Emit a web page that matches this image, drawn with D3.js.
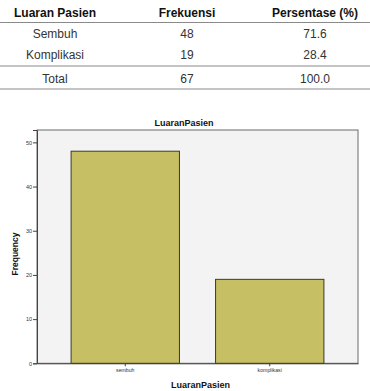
<!DOCTYPE html>
<html><head><meta charset="utf-8">
<script src="https://cdn.jsdelivr.net/npm/d3@7"></script>
<style>body{margin:0;background:#fff}svg{display:block}</style>
</head><body>
<script>
// Table data
const tableHeaders = ["Luaran Pasien", "Frekuensi", "Persentase (%)"];
const tableRows = [["Sembuh", "48", "71.6"], ["Komplikasi", "19", "28.4"]];
const tableTotal = ["Total", "67", "100.0"];
// Chart data
const categories = ["sembuh", "komplikasi"];
const frequencies = [48, 19];
const yTicks = [0, 10, 20, 30, 40, 50];
const chartTitle = "LuaranPasien";
const xTitle = "LuaranPasien";
const yTitle = "Frequency";

const W = 370, H = 391;
const svg = d3.select("body").append("svg").attr("width", W).attr("height", H);
const font = "'Liberation Sans', Arial, sans-serif";

// ----- table -----
const colX = [55, 187, 315];
const hdr = svg.append("g");
hdr.selectAll("text").data(tableHeaders).join("text")
  .attr("x", (d, i) => colX[i]).attr("y", 16.5)
  .attr("text-anchor", "middle").attr("font-family", font)
  .attr("font-size", 12).attr("font-weight", "bold").attr("fill", "#111").text(d => d);

const rowY = [37.5, 58.5];
tableRows.forEach((r, ri) => {
  svg.append("g").selectAll("text").data(r).join("text")
    .attr("x", (d, i) => colX[i]).attr("y", rowY[ri])
    .attr("text-anchor", "middle").attr("font-family", font)
    .attr("font-size", 12).attr("fill", "#333").text(d => d);
});
svg.append("g").selectAll("text").data(tableTotal).join("text")
  .attr("x", (d, i) => colX[i]).attr("y", 82.5)
  .attr("text-anchor", "middle").attr("font-family", font)
  .attr("font-size", 12).attr("fill", "#333").text(d => d);

[22.5, 66, 89].forEach(y => {
  svg.append("line").attr("x1", 0).attr("x2", W).attr("y1", y).attr("y2", y)
    .attr("stroke", "#8a8a8a").attr("stroke-width", 1.2);
});

// ----- chart -----
const plot = {left: 37, right: 358, top: 130, bottom: 363.3};
const x = d3.scaleBand().domain(categories).range([plot.left, plot.right])
  .paddingInner(0.25).paddingOuter(0.236);
const y = d3.scaleLinear().domain([0, 52.8]).range([plot.bottom, plot.top]);

svg.append("rect").attr("x", plot.left).attr("y", plot.top)
  .attr("width", plot.right - plot.left).attr("height", plot.bottom - plot.top)
  .attr("fill", "#f3f3f3").attr("stroke", "#6a6a6a").attr("stroke-width", 1);

svg.append("g").selectAll("rect").data(frequencies).join("rect")
  .attr("x", (d, i) => x(categories[i]))
  .attr("y", d => y(d))
  .attr("width", x.bandwidth())
  .attr("height", d => y(0) - y(d))
  .attr("fill", "#c6bf63").attr("stroke", "#3a3a2a").attr("stroke-width", 1);

const yAxis = svg.append("g").attr("transform", `translate(${plot.left},0)`)
  .call(d3.axisLeft(y).tickValues(yTicks).tickSize(4).tickPadding(1).tickFormat(d3.format("d")));
yAxis.select(".domain").attr("stroke", "#444");
yAxis.selectAll(".tick line").attr("stroke", "#444");
yAxis.selectAll("text").attr("font-family", font).attr("font-size", 5.5).attr("fill", "#333");

const xAxis = svg.append("g").attr("transform", `translate(0,${plot.bottom})`)
  .call(d3.axisBottom(x).tickSize(3).tickPadding(2).tickSizeOuter(0));
xAxis.select(".domain").attr("stroke", "#444");
xAxis.selectAll(".tick line").attr("stroke", "#444");
xAxis.selectAll("text").attr("font-family", font).attr("font-size", 5.2).attr("fill", "#333");

svg.append("text").attr("x", 184).attr("y", 126).attr("text-anchor", "middle")
  .attr("font-family", font).attr("font-size", 9).attr("font-weight", "bold")
  .attr("fill", "#111").text(chartTitle);

svg.append("text").attr("x", 200.5).attr("y", 388).attr("text-anchor", "middle")
  .attr("font-family", font).attr("font-size", 9).attr("font-weight", "bold")
  .attr("fill", "#111").text(xTitle);

svg.append("text").attr("transform", "translate(18,254) rotate(-90)")
  .attr("text-anchor", "middle").attr("font-family", font).attr("font-size", 8.5)
  .attr("font-weight", "bold").attr("fill", "#111").text(yTitle);
</script>
</body></html>
